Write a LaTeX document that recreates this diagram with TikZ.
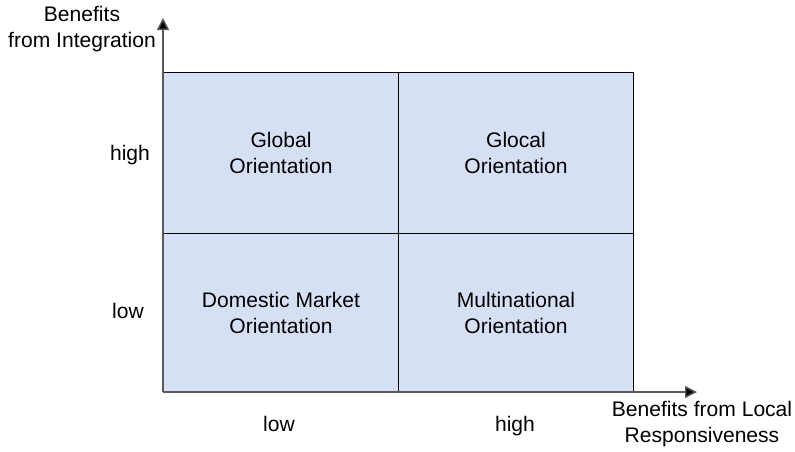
\documentclass[tikz,border=0pt]{standalone}
\usepackage{fontspec}
\setmainfont{Liberation Sans}
\usetikzlibrary{arrows.meta}
\definecolor{cellblue}{RGB}{214,224,245}
\begin{document}
\begin{tikzpicture}[x=0.75pt, y=-0.75pt,
    lbl/.style={align=center, font=\fontsize{15.8}{19.5}\selectfont},
    tick/.style={lbl, text height=1.55ex, text depth=0.3ex},
    cell/.style={lbl, draw=black, line width=0.75pt, fill=cellblue, inner sep=0pt,
      minimum width=176.25pt, anchor=north west},
    axis/.style={line width=1.1pt, draw=black!65, -{Triangle[length=9pt, width=9pt, fill=black]}}]
    \useasboundingbox (0,0) rectangle (795,451);

    % Quadranten
    \node[cell, minimum height=120.75pt] (global) at (163,72) {Global\\Orientation};
    \node[cell, minimum height=120.75pt] (glocal) at (398,72) {Glocal\\Orientation};
    \node[cell, minimum height=119.25pt] (domestic) at (163,233) {Domestic Market\\Orientation};
    \node[cell, minimum height=119.25pt] (multi) at (398,233) {Multinational\\Orientation};

    % Achsen
    \coordinate (o) at (163,392);
    \coordinate (ytip) at (163,18);
    \coordinate (xtip) at (697,392);
    \draw[axis] (o) -- (ytip);
    \draw[axis] (o) -- (xtip);

    \node[lbl] (ylabel) at (82,29) {Benefits\\from Integration};
    \node[lbl] (xlabel) at (702,424) {Benefits from Local\\Responsiveness};

    \node[tick] (yhigh) at (130,156) {high};
    \node[tick] (ylow) at (128,314) {low};
    \node[tick] (xlow) at (279,427) {low};
    \node[tick] (xhigh) at (515,427) {high};
\end{tikzpicture}
\end{document}
